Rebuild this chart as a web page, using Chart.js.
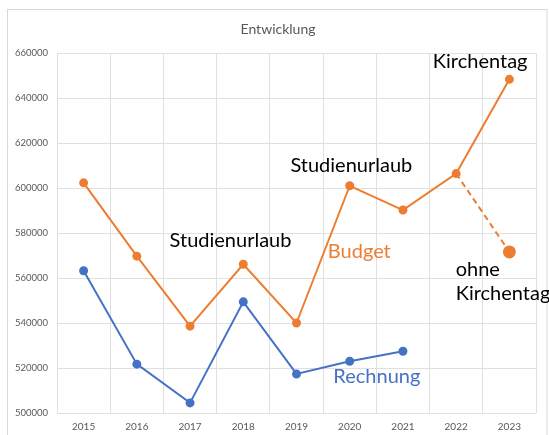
<!DOCTYPE html>
<html>
<head>
<meta charset="utf-8">
<script src="https://cdn.jsdelivr.net/npm/chart.js@4/dist/chart.umd.min.js"></script>
<style>
  html, body { margin: 0; padding: 0; background: #fff; }
  #wrap { width: 549px; height: 435px; position: relative; }
</style>
</head>
<body>
<div id="wrap"><canvas id="c" width="549" height="435"></canvas></div>
<script>
const years = ['2015','2016','2017','2018','2019','2020','2021','2022','2023'];
const budget = [602300, 569700, 538600, 566100, 540000, 601000, 590200, 606400, 648300];
const rechnung = [563200, 521700, 504500, 549400, 517350, 523000, 527450, null, null];
const ohneKirchentag = [null, null, null, null, null, null, null, 606400, 571600];
const yTicks = [500000, 520000, 540000, 560000, 580000, 600000, 620000, 640000, 660000];

const ORANGE = '#ED7D31';
const BLUE = '#4472C4';
const FONT = 'Lato, "Open Sans", sans-serif';

// text annotations: x as (fractional) category index, y as value
const notes = [
  { text: 'Kirchentag', xi: 7.45, yv: 656130, color: '#000', align: 'center' },
  { text: 'Studienurlaub', xi: 5.03, yv: 610180, color: '#000', align: 'center' },
  { text: 'Studienurlaub', xi: 2.76, yv: 576510, color: '#000', align: 'center' },
  { text: 'Budget', xi: 5.18, yv: 571930, color: ORANGE, align: 'center' },
  { text: 'ohne', xi: 6.99, yv: 563790, color: '#000', align: 'left' },
  { text: 'Kirchentag', xi: 6.99, yv: 553115, color: '#000', align: 'left' },
  { text: 'Rechnung', xi: 5.51, yv: 516330, color: BLUE, align: 'center' }
];

const decor = {
  id: 'decor',
  beforeDraw(chart) {
    const ctx = chart.ctx;
    ctx.save();
    ctx.fillStyle = '#fff';
    ctx.fillRect(0, 0, chart.width, chart.height);
    ctx.strokeStyle = '#d9d9d9';
    ctx.lineWidth = 1;
    ctx.strokeRect(7.5, 9.5, 539.5, 500);
    ctx.fillStyle = '#595959';
    ctx.font = '14px ' + FONT;
    ctx.textAlign = 'center';
    ctx.textBaseline = 'middle';
    ctx.fillText('Entwicklung', 278, 29.5);
    ctx.restore();
  },
  afterDatasetsDraw(chart) {
    const ctx = chart.ctx;
    const x = chart.scales.x, y = chart.scales.y;
    const x0 = x.getPixelForValue(0), dx = x.getPixelForValue(1) - x0;
    ctx.save();
    ctx.font = '20px ' + FONT;
    ctx.textBaseline = 'middle';
    notes.forEach(n => {
      ctx.fillStyle = n.color;
      ctx.textAlign = n.align;
      ctx.fillText(n.text, x0 + n.xi * dx, y.getPixelForValue(n.yv));
    });
    ctx.restore();
  }
};

new Chart(document.getElementById('c'), {
  type: 'line',
  data: {
    labels: years,
    datasets: [
      {
        label: 'Budget', data: budget, borderColor: ORANGE, backgroundColor: ORANGE,
        borderWidth: 2, pointRadius: 3.5, pointHoverRadius: 3.5, tension: 0
      },
      {
        label: 'Rechnung', data: rechnung, borderColor: BLUE, backgroundColor: BLUE,
        borderWidth: 2, pointRadius: 3.5, pointHoverRadius: 3.5, tension: 0, spanGaps: false
      },
      {
        label: 'ohne Kirchentag', data: ohneKirchentag, borderColor: ORANGE, backgroundColor: ORANGE,
        borderWidth: 2, borderDash: [6, 4], pointRadius: [0,0,0,0,0,0,0,0,5.5], pointHoverRadius: 5.5, tension: 0
      }
    ]
  },
  options: {
    responsive: false,
    animation: false,
    layout: { padding: { left: 0, right: 13, top: 53, bottom: 0 } },
    plugins: { legend: { display: false }, title: { display: false }, tooltip: { enabled: false } },
    scales: {
      x: {
        offset: true,
        grid: { color: '#e0e0e0', offset: true, drawTicks: false },
        border: { display: false },
        ticks: { color: '#595959', font: { size: 10, family: FONT }, padding: 8, maxRotation: 0 },
        afterFit(s) { s.height = 22; }
      },
      y: {
        min: 500000, max: 660000,
        afterBuildTicks(s) { s.ticks = yTicks.map(v => ({ value: v })); },
        grid: { color: '#e0e0e0', drawTicks: false },
        border: { display: false },
        ticks: { color: '#595959', font: { size: 9.5, family: FONT }, padding: 9, callback: v => String(v) },
        afterFit(s) { s.width = 57; }
      }
    }
  },
  plugins: [decor]
});
</script>
</body>
</html>
